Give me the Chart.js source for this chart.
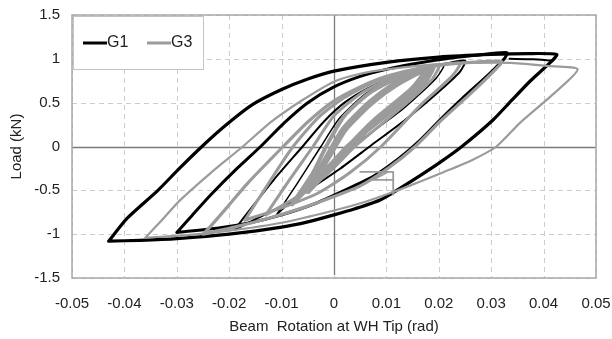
<!DOCTYPE html>
<html>
<head>
<meta charset="utf-8">
<title>Load vs beam rotation</title>
<script src="https://cdn.jsdelivr.net/npm/chart.js@4/dist/chart.umd.min.js"></script>
<style>
    html, body { margin:0; padding:0; background:#fff; }
    canvas { display:block; }
</style>
</head>
<body>
<canvas id="hysteresis" width="612" height="339"></canvas>
<script>
// =========================
// DATA  ([rotation rad, load kN])
// =========================
const seriesNames = ["G1", "G3"]
const xTickLabels = ["-0.05", "-0.04", "-0.03", "-0.02", "-0.01", "0", "0.01", "0.02", "0.03", "0.04", "0.05"]
const yTickLabels = ["-1.5", "-1", "-0.5", "0", "0.5", "1", "1.5"]

// G1 cycles, largest first
const g1LoopA = [[-0.043,-1.08],[-0.0395,-0.82],[-0.0336,-0.50],[-0.0295,-0.25],[-0.0252,0.0],[-0.0205,0.25],[-0.0155,0.48],[-0.010,0.65],[-0.005,0.77],[0.0,0.86],[0.01,0.96],[0.02,1.02],[0.03,1.05],[0.037,1.06],[0.0425,1.05],[0.0415,0.97],[0.0375,0.75],[0.0335,0.5],[0.0303,0.30],[0.0244,0.0],[0.0205,-0.17],[0.0165,-0.33],[0.0125,-0.48],[0.0088,-0.61],[0.004,-0.71],[0.0,-0.78],[-0.005,-0.86],[-0.01,-0.92],[-0.02,-1.0],[-0.03,-1.05],[-0.037,-1.07],[-0.043,-1.08]]
const g1LoopB = [[-0.030,-0.98],[-0.027,-0.78],[-0.0235,-0.55],[-0.0185,-0.25],[-0.014,0.0],[-0.0095,0.27],[-0.005,0.5],[0.0,0.68],[0.005,0.8],[0.01,0.88],[0.015,0.94],[0.02,0.99],[0.027,1.04],[0.033,1.07],[0.0325,1.0],[0.0295,0.82],[0.0245,0.55],[0.0205,0.32],[0.0164,0.07],[0.0125,-0.13],[0.0075,-0.34],[0.002,-0.5],[-0.004,-0.66],[-0.01,-0.78],[-0.016,-0.87],[-0.022,-0.93],[-0.030,-0.98]]
const g1LoopC = [[-0.019,-0.95],[-0.0155,-0.68],[-0.0115,-0.38],[-0.006,0.0],[-0.002,0.28],[0.002,0.5],[0.007,0.68],[0.012,0.8],[0.018,0.9],[0.025,0.98],[0.024,0.85],[0.0195,0.6],[0.0135,0.3],[0.0068,0.0],[0.001,-0.26],[-0.005,-0.5],[-0.01,-0.68],[-0.015,-0.83],[-0.019,-0.95]]
const g1LoopD = [[-0.011,-0.78],[-0.007,-0.42],[-0.0025,0.0],[0.001,0.32],[0.006,0.6],[0.011,0.77],[0.016,0.87],[0.021,0.94],[0.0195,0.78],[0.013,0.42],[0.0035,0.0],[-0.002,-0.3],[-0.007,-0.56],[-0.011,-0.78]]
const g1Return = [[0.0335,1.0],[0.038,0.995],[0.0415,0.98]]

// G3 cycles, largest first
const g3LoopA = [[-0.036,-1.04],[-0.033,-0.85],[-0.0295,-0.62],[-0.0235,-0.3],[-0.0174,0.0],[-0.012,0.28],[-0.006,0.53],[0.0,0.74],[0.005,0.83],[0.01,0.88],[0.02,0.94],[0.0336,0.955],[0.0405,0.92],[0.0465,0.88],[0.0415,0.58],[0.0355,0.27],[0.031,0.0],[0.0265,-0.15],[0.021,-0.29],[0.016,-0.41],[0.0113,-0.52],[0.006,-0.63],[0.0,-0.73],[-0.01,-0.87],[-0.02,-0.96],[-0.028,-1.01],[-0.036,-1.04]]
const g3LoopB = [[-0.025,-1.0],[-0.0237,-0.92],[-0.0205,-0.7],[-0.0165,-0.42],[-0.0097,0.0],[-0.005,0.28],[0.0,0.52],[0.005,0.68],[0.01,0.8],[0.016,0.89],[0.024,0.95],[0.032,0.97],[0.0305,0.86],[0.026,0.6],[0.0205,0.3],[0.0155,0.0],[0.0105,-0.24],[0.005,-0.45],[0.0,-0.57],[-0.006,-0.7],[-0.012,-0.81],[-0.019,-0.92],[-0.025,-1.0]]
const g3LoopC = [[-0.017,-0.84],[-0.0125,-0.42],[-0.0078,0.0],[-0.003,0.33],[0.002,0.56],[0.008,0.74],[0.015,0.87],[0.024,0.95],[0.0225,0.8],[0.017,0.5],[0.009,0.0],[0.003,-0.3],[-0.003,-0.53],[-0.01,-0.7],[-0.017,-0.84]]
const g3LoopD = [[-0.013,-0.78],[-0.0085,-0.38],[-0.004,0.0],[0.0,0.35],[0.005,0.6],[0.011,0.78],[0.02,0.93],[0.0185,0.75],[0.012,0.4],[0.004,0.0],[-0.001,-0.3],[-0.007,-0.57],[-0.013,-0.78]]
const g3LoopE = [[-0.008,-0.66],[-0.004,-0.3],[-0.0015,0.0],[0.002,0.35],[0.007,0.62],[0.013,0.8],[0.019,0.92],[0.017,0.7],[0.01,0.35],[0.0025,0.0],[-0.002,-0.3],[-0.008,-0.66]]
const g3LoopF = [[-0.005,-0.5],[-0.001,-0.1],[0.002,0.2],[0.007,0.5],[0.012,0.72],[0.018,0.9],[0.015,0.65],[0.008,0.3],[0.003,0.0],[-0.001,-0.25],[-0.005,-0.5]]
const g3Slip1 = [[0.005,-0.29],[0.0113,-0.29],[0.0113,-0.55]]
const g3Slip2 = [[0.0075,-0.38],[0.0113,-0.38]]
const g3Slip3 = [[0.0075,-0.38],[0.0103,-0.29]]

// =========================
// STYLE
// =========================
const BLACK = "#000000"
const GREY = "#9b9b9b"
const GRID = "#cccccc"

const g1Paths = [
    { pts: g1LoopA, w: 3.2 },
    { pts: g1LoopB, w: 3 },
    { pts: g1LoopC, w: 2 },
    { pts: g1LoopD, w: 1.5 },
    { pts: g1Return, w: 2 }
]
const g3Paths = [
    { pts: g3LoopA, w: 2.2 },
    { pts: g3LoopB, w: 3.2 },
    { pts: g3LoopC, w: 3 },
    { pts: g3LoopD, w: 3 },
    { pts: g3LoopE, w: 4 },
    { pts: g3LoopF, w: 7 },
    { pts: g3Slip1, w: 1.8, straight: true },
    { pts: g3Slip2, w: 1.8, straight: true },
    { pts: g3Slip3, w: 1.8, straight: true }
]

function toDataset(path, name, color, order){
    return {
        label: name,
        data: path.pts.map(p => ({ x: p[0], y: p[1] })),
        showLine: true,
        borderColor: color,
        backgroundColor: color,
        borderWidth: path.w,
        pointRadius: 0,
        tension: path.straight ? 0 : 0.22,
        borderJoinStyle: "round",
        borderCapStyle: "round",
        order: order
    }
}

const datasets = []
g1Paths.forEach(p => datasets.push(toDataset(p, seriesNames[0], BLACK, 2)))
g3Paths.forEach(p => datasets.push(toDataset(p, seriesNames[1], GREY, 1)))

// =========================
// PLUGIN: dashed grid, frame, zero axes, legend box
// =========================
const framePlugin = {
    id: "frame",
    beforeDatasetsDraw(chart){
        const ctx = chart.ctx
        const a = chart.chartArea
        const xs = chart.scales.x
        const ys = chart.scales.y
        ctx.save()

        // dashed grid at every tick
        ctx.strokeStyle = GRID
        ctx.lineWidth = 1
        ctx.setLineDash([5, 4])
        ctx.beginPath()
        xs.ticks.forEach(t => {
            const px = Math.round(xs.getPixelForValue(t.value)) + 0.5
            ctx.moveTo(px, a.top)
            ctx.lineTo(px, a.bottom)
        })
        ys.ticks.forEach(t => {
            const py = Math.round(ys.getPixelForValue(t.value)) + 0.5
            ctx.moveTo(a.left, py)
            ctx.lineTo(a.right, py)
        })
        ctx.stroke()
        ctx.setLineDash([])

        // solid zero lines
        ctx.strokeStyle = "#7a7a7a"
        ctx.lineWidth = 1.3
        ctx.beginPath()
        const x0 = Math.round(xs.getPixelForValue(0)) + 0.5
        const y0 = Math.round(ys.getPixelForValue(0)) + 0.5
        ctx.moveTo(x0, a.top)
        ctx.lineTo(x0, a.bottom - 3)
        ctx.moveTo(a.left, y0)
        ctx.lineTo(a.right, y0)
        ctx.stroke()

        // plot frame
        ctx.strokeStyle = "#a8a8a8"
        ctx.lineWidth = 1.5
        ctx.strokeRect(a.left, a.top, a.right - a.left, a.bottom - a.top)
        ctx.restore()
    },
    afterDatasetsDraw(chart){
        const ctx = chart.ctx
        const a = chart.chartArea
        const bx = a.left + 1
        const by = a.top + 1
        const bw = 130
        const bh = 53
        ctx.save()
        ctx.fillStyle = "#ffffff"
        ctx.fillRect(bx, by, bw, bh)
        ctx.strokeStyle = "#c4c4c4"
        ctx.lineWidth = 1
        ctx.strokeRect(bx + 0.5, by + 0.5, bw, bh)

        const rowY = by + 27
        const items = [
            { name: seriesNames[0], color: BLACK, x: bx + 10 },
            { name: seriesNames[1], color: GREY, x: bx + 74 }
        ]
        ctx.font = "16px 'Liberation Sans', Arial, sans-serif"
        ctx.textBaseline = "middle"
        items.forEach(it => {
            ctx.strokeStyle = it.color
            ctx.lineWidth = 3
            ctx.beginPath()
            ctx.moveTo(it.x, rowY)
            ctx.lineTo(it.x + 24, rowY)
            ctx.stroke()
            ctx.fillStyle = "#222"
            ctx.fillText(it.name, it.x + 24, rowY)
        })
        ctx.restore()
    }
}

// =========================
// CHART
// =========================
Chart.defaults.font.family = "'Liberation Sans', Arial, sans-serif"
Chart.defaults.font.size = 15
Chart.defaults.color = "#222"

const ctx = document.getElementById("hysteresis")

new Chart(ctx, {
    type: "scatter",
    data: { datasets: datasets },
    options: {
        responsive: false,
        animation: false,
        layout: { padding: { top: 15, right: 16, left: 0, bottom: 0 } },
        plugins: {
            legend: { display: false },
            tooltip: { enabled: false }
        },
        scales: {
            x: {
                type: "linear",
                min: -0.05,
                max: 0.05,
                afterFit: s => {
                    s.height = 61
                    s.paddingLeft = 0
                    s.paddingRight = 0
                },
                afterBuildTicks: s => {
                    s.ticks = xTickLabels.map(t => ({ value: Number(t) }))
                },
                ticks: {
                    padding: 17,
                    callback: (v, i) => xTickLabels[i]
                },
                grid: { display: false, drawTicks: false },
                border: { display: false },
                title: {
                    display: true,
                    text: "Beam  Rotation at WH Tip (rad)",
                    padding: { top: 0, bottom: 3 }
                }
            },
            y: {
                type: "linear",
                min: -1.5,
                max: 1.5,
                afterFit: s => {
                    s.width = 72
                    s.paddingTop = 0
                    s.paddingBottom = 0
                },
                afterBuildTicks: s => {
                    s.ticks = yTickLabels.map(t => ({ value: Number(t) }))
                },
                ticks: {
                    padding: 12,
                    callback: (v, i) => yTickLabels[i]
                },
                grid: { display: false, drawTicks: false },
                border: { display: false },
                title: {
                    display: true,
                    text: "Load (kN)",
                    padding: { top: 8, bottom: 0 }
                }
            }
        }
    },
    plugins: [framePlugin]
})
</script>
</body>
</html>
